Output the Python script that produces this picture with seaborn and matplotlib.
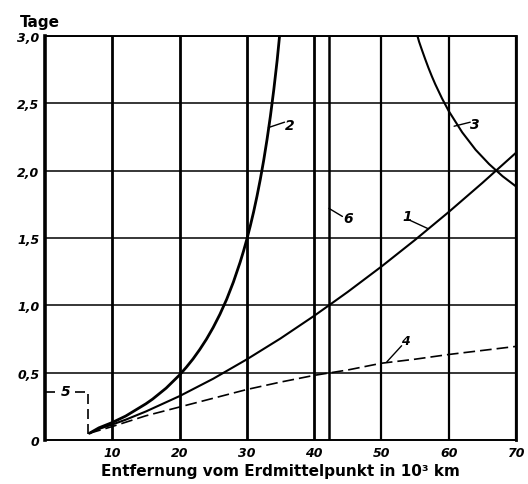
import numpy as np
import pandas as pd
import matplotlib
matplotlib.use("Agg")
import matplotlib.pyplot as plt
import seaborn as sns

# Werte (x in 10^3 km, y in Tagen)
x1 = [6.6, 8, 10, 12, 15, 20, 25, 30, 35, 40, 42.2, 45, 50, 55, 60, 65, 70]
y1 = [0.05, 0.082, 0.115, 0.151, 0.212, 0.326, 0.455, 0.599, 0.754, 0.922, 1.0, 1.10, 1.288, 1.486, 1.693, 1.909, 2.133]

x2 = [6.6, 8, 10, 12, 15, 16, 18, 20, 21, 22, 23, 24, 25, 26, 27, 28, 29, 29.5,
      30, 30.5, 31, 31.5, 32, 32.5, 33, 33.5, 34, 34.5, 35]
y2 = [0.05, 0.09, 0.13, 0.178, 0.269, 0.304, 0.385, 0.483, 0.540, 0.602, 0.672, 0.749,
      0.836, 0.934, 1.045, 1.173, 1.320, 1.402, 1.491, 1.588, 1.693, 1.809, 1.936,
      2.076, 2.232, 2.405, 2.60, 2.818, 3.07]

x3 = [55.3, 55.6, 56, 56.5, 57, 57.5, 58, 59, 60, 62, 64, 66, 68, 70]
y3 = [3.01, 2.957, 2.899, 2.829, 2.762, 2.700, 2.642, 2.537, 2.443, 2.285, 2.155, 2.049, 1.959, 1.883]

x4 = [6.6, 10, 15, 20, 25, 30, 35, 40, 45, 50, 55, 60, 65, 70]
y4 = [0.05, 0.10, 0.18, 0.245, 0.31, 0.375, 0.43, 0.48, 0.52, 0.57, 0.60, 0.635, 0.665, 0.695]

x5 = [0, 6.4, 6.4]
y5 = [0.36, 0.36, 0.03]

x6 = 42.2

xticks = [10, 20, 30, 40, 50, 60, 70]
yticks = [0, 0.5, 1.0, 1.5, 2.0, 2.5, 3.0]
ylabels = ["0", "0,5", "1,0", "1,5", "2,0", "2,5", "3,0"]

sns.set_style("white")
plt.rcParams['font.family'] = ['DejaVu Sans']
plt.rcParams['text.color'] = 'black'
plt.rcParams['axes.labelcolor'] = 'black'
plt.rcParams['xtick.color'] = 'black'
plt.rcParams['ytick.color'] = 'black'

fig = plt.figure(figsize=(5.28, 4.85), dpi=100)
ax = fig.add_axes([45/528, 1-441/485, (516-45)/528, (441-37)/485])

# Gitter
for xv in xticks:
    ax.axvline(xv, color='black', lw=2.0 if xv <= 40 else 1.6, zorder=1)
for yv in yticks[1:]:
    ax.axhline(yv, color='black', lw=1.1, zorder=1)

k = dict(color='black', legend=False, ax=ax, zorder=3, estimator=None, sort=False)
sns.lineplot(data=pd.DataFrame({'x': x1, 'y': y1}), x='x', y='y', lw=1.5, **k)
sns.lineplot(data=pd.DataFrame({'x': x2, 'y': y2}), x='x', y='y', lw=2.0, **k)
sns.lineplot(data=pd.DataFrame({'x': x3, 'y': y3}), x='x', y='y', lw=1.5, **k)
sns.lineplot(data=pd.DataFrame({'x': x4, 'y': y4}), x='x', y='y', lw=1.2,
             linestyle=(0, (7, 3)), **k)
sns.lineplot(data=pd.DataFrame({'x': x5, 'y': y5}), x='x', y='y', lw=1.2,
             linestyle=(0, (6, 3)), **k)
ax.axvline(x6, color='black', lw=1.8, zorder=2)

# Kurvennummern
lab = dict(fontsize=10, style='italic', fontweight='bold', va='center', ha='center', zorder=5)
ax.text(3.0, 0.365, "5", bbox=dict(fc='white', ec='none', pad=1), **lab)
ax.plot([33.2, 35.6], [2.32, 2.36], color='black', lw=1)
ax.text(36.3, 2.34, "2", **lab)
ax.plot([60.8, 63.2], [2.33, 2.36], color='black', lw=1)
ax.text(63.9, 2.35, "3", **lab)
ax.plot([42.2, 44.2], [1.72, 1.66], color='black', lw=1)
ax.text(45.0, 1.65, "6", **lab)
ax.plot([54.3, 56.9], [1.63, 1.57], color='black', lw=1)
ax.text(53.8, 1.66, "1", **lab)
ax.plot([50.8, 53.0], [0.58, 0.70], color='black', lw=1)
ax.text(53.6, 0.74, "4", fontsize=9, style='italic', fontweight='bold', va='center', ha='center')

ax.set_xlim(0, 70)
ax.set_ylim(0, 3.0)
ax.set_xticks(xticks)
ax.set_xticklabels([str(v) for v in xticks], style='italic', fontweight='bold', fontsize=9)
ax.set_yticks(yticks)
ax.set_yticklabels(ylabels, style='italic', fontweight='bold', fontsize=9)
ax.tick_params(length=0, pad=4)
for s in ax.spines.values():
    s.set_color('black')
    s.set_linewidth(1.4)
ax.spines['left'].set_linewidth(2.6)
ax.spines['right'].set_linewidth(2.0)

ax.set_xlabel("Entfernung vom Erdmittelpunkt in 10³ km", fontsize=11, fontweight='bold', labelpad=3)
ax.set_ylabel("")
fig.text(20/528, 1-22/485, "Tage", fontsize=11, fontweight='bold', va='center', ha='left')

fig.savefig("out.png", dpi=100)
